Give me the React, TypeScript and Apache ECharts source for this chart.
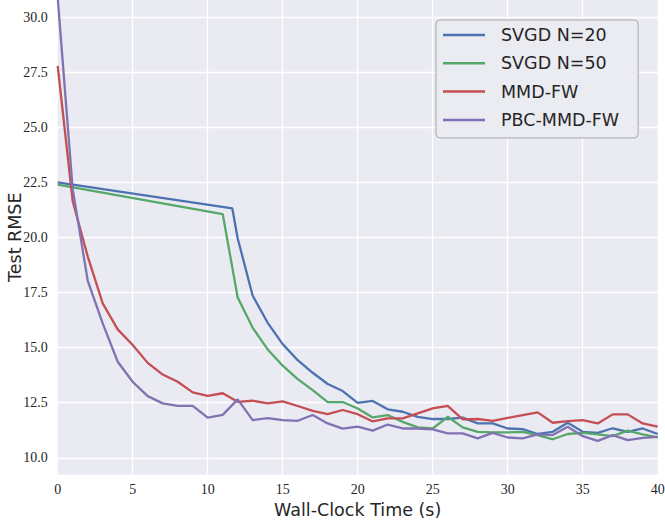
import React, { useEffect, useRef } from "react";
import * as echarts from "echarts";

const seriesNames = ["SVGD N=20", "SVGD N=50", "MMD-FW", "PBC-MMD-FW"];
const seriesColors = ["#4C72B0", "#55A868", "#C44E52", "#8172B2"];

const svgd20Times = [0, 11.64, 12, 13, 14, 15, 16, 17, 18, 19, 20, 21, 22, 23, 24, 25, 26, 27, 28, 29, 30, 31, 32, 33, 34, 35, 36, 37, 38, 39, 40];
const svgd20 = [22.51, 21.33, 19.96, 17.36, 16.13, 15.16, 14.43, 13.86, 13.35, 13.03, 12.49, 12.58, 12.2, 12.09, 11.86, 11.76, 11.76, 11.82, 11.56, 11.56, 11.33, 11.3, 11.08, 11.18, 11.59, 11.18, 11.13, 11.34, 11.18, 11.33, 11.08];

const svgd50Times = [0, 11, 12, 13, 14, 15, 16, 17, 18, 19, 20, 21, 22, 23, 24, 25, 26, 27, 28, 29, 30, 31, 32, 33, 34, 35, 36, 37, 38, 39, 40];
const svgd50 = [22.41, 21.07, 17.28, 15.9, 14.92, 14.18, 13.57, 13.07, 12.53, 12.53, 12.24, 11.83, 11.94, 11.63, 11.38, 11.33, 11.86, 11.38, 11.18, 11.15, 11.15, 11.18, 11.03, 10.84, 11.08, 11.13, 11.06, 10.98, 11.23, 11.06, 10.93];

const fwTimes = [0, 1, 2, 3, 4, 5, 6, 7, 8, 9, 10, 11, 12, 13, 14, 15, 16, 17, 18, 19, 20, 21, 22, 23, 24, 25, 26, 27, 28, 29, 30, 31, 32, 33, 34, 35, 36, 37, 38, 39, 40];
const mmdFw = [27.8, 21.65, 19.15, 17.01, 15.83, 15.12, 14.31, 13.78, 13.45, 12.97, 12.81, 12.93, 12.54, 12.59, 12.47, 12.56, 12.35, 12.13, 11.98, 12.17, 11.98, 11.65, 11.79, 11.79, 12.02, 12.24, 12.36, 11.74, 11.76, 11.68, 11.81, 11.94, 12.06, 11.59, 11.66, 11.71, 11.56, 11.97, 11.97, 11.56, 11.41];
const pbcMmdFw = [30.9, 22.2, 18.05, 16.1, 14.36, 13.45, 12.8, 12.47, 12.36, 12.36, 11.82, 11.95, 12.65, 11.71, 11.8, 11.71, 11.68, 11.94, 11.56, 11.32, 11.41, 11.23, 11.51, 11.33, 11.33, 11.29, 11.11, 11.11, 10.88, 11.13, 10.92, 10.88, 11.06, 11.03, 11.41, 10.98, 10.77, 11.03, 10.8, 10.9, 10.95];

const xMin = 0;
const xMax = 40;
const xInterval = 5;
const yMin = 9.24;
const yMax = 30.79;
const yInterval = 2.5;

const zip = (xs: number[], ys: number[]) => xs.map((x, i) => [x, ys[i]]);

export default function App() {
  const ref = useRef<HTMLDivElement>(null);
  useEffect(() => {
    document.body.style.margin = "0";
    if (!ref.current) return;
    const chart = echarts.init(ref.current, null, { renderer: "svg" });
    const allData = [
      zip(svgd20Times, svgd20),
      zip(svgd50Times, svgd50),
      zip(fwTimes, mmdFw),
      zip(fwTimes, pbcMmdFw),
    ];
    const labelColor = "#262626";
    chart.setOption({
      animation: false,
      backgroundColor: "#ffffff",
      grid: {
        left: 57.7,
        right: 7.3,
        top: 0,
        bottom: 47.5,
        show: true,
        backgroundColor: "#EAEAF2",
        borderWidth: 0,
        containLabel: false,
        outerBoundsMode: "none",
      },
      legend: {
        orient: "vertical",
        left: 436,
        top: 20,
        data: seriesNames,
        icon: "rect",
        itemWidth: 42,
        itemHeight: 2.5,
        itemGap: 10.3,
        padding: [6, 19, 9, 7],
        backgroundColor: "#EBEBF2",
        borderColor: "#A8A8B0",
        borderWidth: 1,
        borderRadius: 4,
        textStyle: {
          fontFamily: "DejaVu Sans",
          fontSize: 17.5,
          color: labelColor,
          lineHeight: 18,
          padding: [0, 0, 0, 11],
        },
      },
      xAxis: {
        type: "value",
        min: xMin,
        max: xMax,
        interval: xInterval,
        name: "Wall-Clock Time (s)",
        nameLocation: "middle",
        nameGap: 26,
        nameMoveOverlap: false,
        nameTextStyle: { fontFamily: "DejaVu Sans", fontSize: 17.5, color: labelColor },
        axisLine: { show: false },
        axisTick: { show: false },
        axisLabel: {
          fontFamily: "Liberation Serif",
          fontSize: 14,
          color: labelColor,
          margin: 8,
        },
        splitLine: {
          show: true,
          showMinLine: false,
          showMaxLine: false,
          lineStyle: { color: "#ffffff", width: 1.3 },
        },
      },
      yAxis: {
        type: "value",
        min: yMin,
        max: yMax,
        minInterval: yInterval,
        maxInterval: yInterval,
        name: "Test RMSE",
        nameLocation: "middle",
        nameGap: 34,
        nameMoveOverlap: false,
        nameTextStyle: { fontFamily: "DejaVu Sans", fontSize: 17.5, color: labelColor },
        axisLine: { show: false },
        axisTick: { show: false },
        axisLabel: {
          fontFamily: "Liberation Serif",
          fontSize: 14,
          color: labelColor,
          margin: 10,
          showMinLabel: false,
          showMaxLabel: false,
          formatter: (v: number) => v.toFixed(1),
        },
        splitLine: {
          show: true,
          showMinLine: false,
          showMaxLine: false,
          lineStyle: { color: "#ffffff", width: 1.3 },
        },
      },
      series: seriesNames.map((name, i) => ({
        name,
        type: "line",
        data: allData[i],
        showSymbol: false,
        symbol: "none",
        clip: true,
        color: seriesColors[i],
        lineStyle: { color: seriesColors[i], width: 2.3 },
        z: 2 + i,
      })),
    });
    return () => chart.dispose();
  }, []);
  return <div ref={ref} style={{ width: 665, height: 522 }} />;
}
